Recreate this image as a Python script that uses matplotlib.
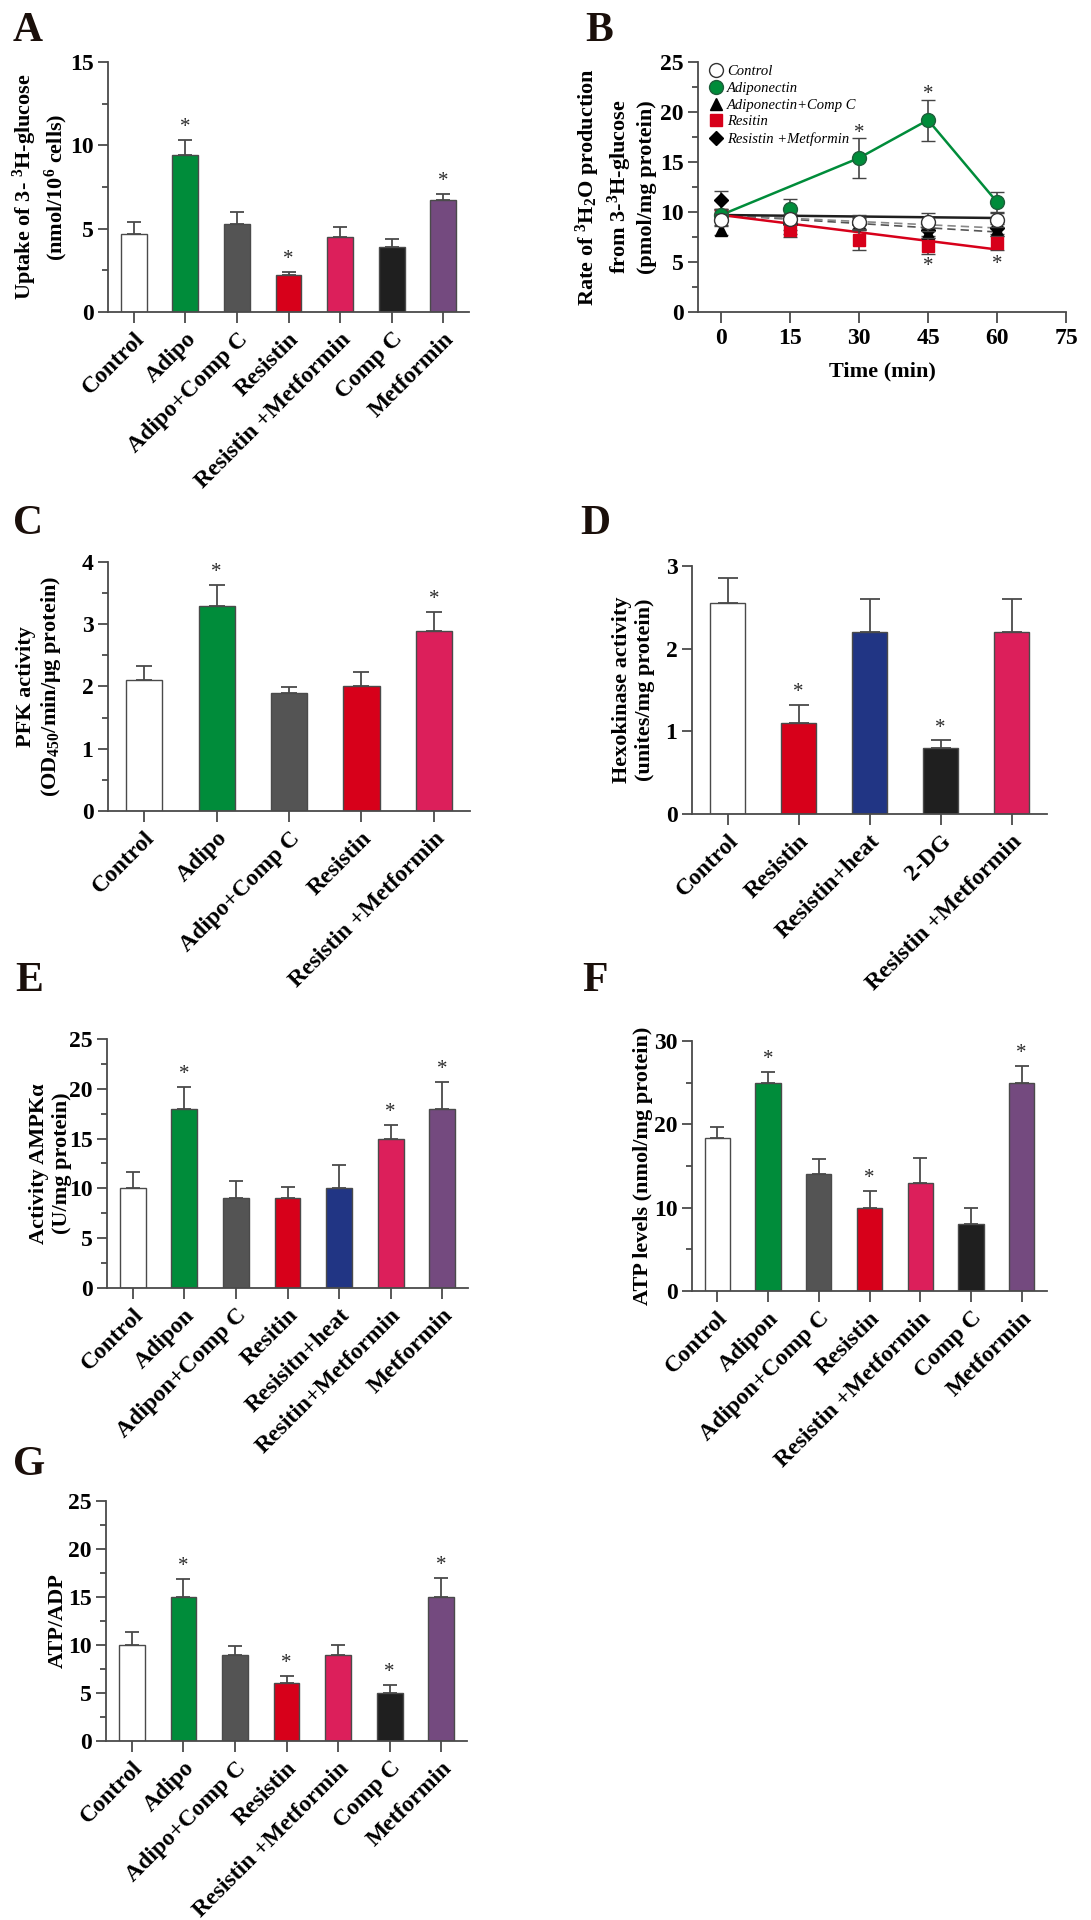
# Recreate the seven-panel adipokine / glucose-metabolism figure (A-G)

import matplotlib.pyplot as plt
import numpy as np

plt.rcParams['font.family'] = ['Liberation Serif', 'DejaVu Serif']
plt.rcParams['font.weight'] = 'bold'
plt.rcParams['axes.labelweight'] = 'bold'
plt.rcParams['mathtext.default'] = 'regular'

# Colours
WHITE = '#FFFFFF'
GREEN = '#008C3A'
GREY = '#545454'
RED = '#D7001A'
PINK = '#DC1F5B'
BLACK = '#1F1F1F'
PURPLE = '#744A7F'
BLUE = '#213584'
AXIS = '#4A4A4A'

# Panel A - glucose uptake
a_labels = ['Control', 'Adipo', 'Adipo+Comp C', 'Resistin', 'Resistin +Metformin', 'Comp C', 'Metformin']
a_values = [4.7, 9.4, 5.3, 2.2, 4.5, 3.9, 6.75]
a_errors = [0.7, 0.9, 0.7, 0.22, 0.6, 0.5, 0.32]
a_stars = [False, True, False, True, False, False, True]
a_colors = [WHITE, GREEN, GREY, RED, PINK, BLACK, PURPLE]

# Panel B - rate of 3H2O production
b_time = [0, 15, 30, 45, 60]
b_control = [9.2, 9.35, 9.0, 9.0, 9.25]
b_control_err = [0.6, 0.5, 0.7, 0.9, 0.7]
b_adipo = [9.7, 10.35, 15.4, 19.2, 11.0]
b_adipo_err = [0.6, 1.0, 2.0, 2.05, 1.0]
b_adipo_compc = [8.2, 8.45, 8.9, 7.95, 8.2]
b_adipo_compc_err = [0.5, 0.6, 0.6, 0.5, 0.6]
b_resitin = [9.75, 8.2, 7.2, 6.6, 6.95]
b_resitin_err = [0.6, 0.7, 1.0, 0.8, 0.7]
b_res_met = [11.2, 8.8, 8.8, 8.2, 8.4]
b_res_met_err = [0.95, 0.6, 0.6, 0.6, 0.6]
# fitted lines
b_adipo_line_t = [0, 30, 45, 60]
b_adipo_line = [9.7, 15.4, 19.2, 11.0]
b_fit_t = [0, 60]
b_control_fit = [9.7, 9.4]
b_resitin_fit = [9.7, 6.25]
b_compc_fit = [9.7, 8.0]
b_met_fit = [9.7, 8.4]
b_star_up = [(30, 17.9), (45, 21.8)]
b_star_down = [(45, 4.6), (60, 4.8)]

# Panel C - PFK activity
c_labels = ['Control', 'Adipo', 'Adipo+Comp C', 'Resistin', 'Resistin +Metformin']
c_values = [2.11, 3.29, 1.89, 2.0, 2.89]
c_errors = [0.22, 0.34, 0.1, 0.23, 0.3]
c_stars = [False, True, False, False, True]
c_colors = [WHITE, GREEN, GREY, RED, PINK]

# Panel D - hexokinase activity
d_labels = ['Control', 'Resistin', 'Resistin+heat', '2-DG', 'Resistin +Metformin']
d_values = [2.55, 1.1, 2.2, 0.8, 2.2]
d_errors = [0.3, 0.22, 0.4, 0.09, 0.4]
d_stars = [False, True, False, True, False]
d_colors = [WHITE, RED, BLUE, BLACK, PINK]

# Panel E - AMPK activity
e_labels = ['Control', 'Adipon', 'Adipon+Comp C', 'Resitin', 'Resisitn+heat', 'Resitin+Metformin', 'Metformin']
e_values = [10, 18, 9, 9, 10, 15, 18]
e_errors = [1.67, 2.17, 1.7, 1.1, 2.3, 1.4, 2.65]
e_stars = [False, True, False, False, False, True, True]
e_colors = [WHITE, GREEN, GREY, RED, BLUE, PINK, PURPLE]

# Panel F - ATP levels
f_labels = ['Control', 'Adipon', 'Adipon+Comp C', 'Resistin', 'Resistin +Metformin', 'Comp C', 'Metformin']
f_values = [18.4, 25, 14, 10, 13, 8, 25]
f_errors = [1.25, 1.3, 1.9, 2.0, 3.0, 2.0, 1.95]
f_stars = [False, True, False, True, False, False, True]
f_colors = [WHITE, GREEN, GREY, RED, PINK, BLACK, PURPLE]

# Panel G - ATP/ADP
g_labels = ['Control', 'Adipo', 'Adipo+Comp C', 'Resistin', 'Resistin +Metformin', 'Comp C', 'Metformin']
g_values = [10, 15, 9, 6, 9, 5, 15]
g_errors = [1.4, 1.9, 0.9, 0.8, 1.0, 0.8, 2.0]
g_stars = [False, True, False, True, False, True, True]
g_colors = [WHITE, GREEN, GREY, RED, PINK, BLACK, PURPLE]

TICK_FS = 17
LABEL_FS = 16


def style_axes(ax):
    for side in ['top', 'right']:
        ax.spines[side].set_visible(False)
    for side in ['left', 'bottom']:
        ax.spines[side].set_color(AXIS)
        ax.spines[side].set_linewidth(1.3)
    ax.tick_params(which='both', direction='out', color=AXIS, width=1.3)
    ax.tick_params(which='major', length=7, labelsize=TICK_FS)
    ax.tick_params(which='minor', length=4)


def bar_panel(ax, labels, values, errors, colors, stars, ymax, major, minor, ylabel, cap, label_x):
    x = np.arange(len(labels))
    ax.bar(x, values, width=0.5, color=colors, edgecolor=AXIS, linewidth=1.0, zorder=2)
    ax.errorbar(x, values, yerr=[np.zeros(len(values)), errors], fmt='none',
                ecolor=AXIS, elinewidth=1.3, capsize=cap, capthick=1.3, zorder=1)
    for xi, v, e, s in zip(x, values, errors, stars):
        if s:
            ax.text(xi, v + e + ymax * 0.012, '*', ha='center', va='bottom',
                    fontsize=15, fontweight='normal', color='#2A2A2A')
    ax.set_xlim(-0.5, len(labels) - 0.5)
    ax.set_ylim(0, ymax)
    ax.set_yticks(np.arange(0, ymax + 0.001, major))
    if minor:
        ax.set_yticks(np.arange(0, ymax + 0.001, minor), minor=True)
    ax.set_xticks(x)
    ax.set_xticklabels(labels, rotation=45, ha='right', va='top', rotation_mode='anchor')
    ax.set_ylabel(ylabel, fontsize=LABEL_FS)
    ax.yaxis.set_label_coords(label_x, 0.5)
    style_axes(ax)
    ax.tick_params(axis='x', length=8, pad=4)


fig = plt.figure(figsize=(10.91, 19.2), dpi=100)

axA = fig.add_axes([0.0990, 0.8375, 0.3309, 0.1302])
axB = fig.add_axes([0.6398, 0.8375, 0.3373, 0.1302])
axC = fig.add_axes([0.0990, 0.5776, 0.3318, 0.1297])
axD = fig.add_axes([0.6343, 0.5760, 0.3254, 0.1292])
axE = fig.add_axes([0.0981, 0.3292, 0.3309, 0.1297])
axF = fig.add_axes([0.6343, 0.3276, 0.3254, 0.1302])
axG = fig.add_axes([0.0972, 0.0932, 0.3309, 0.1250])

bar_panel(axA, a_labels, a_values, a_errors, a_colors, a_stars, 15, 5, 2.5,
          'Uptake of 3- $^{3}$H-glucose\n(nmol/10$^{6}$ cells)', 4.7, -0.106)
bar_panel(axC, c_labels, c_values, c_errors, c_colors, c_stars, 4, 1, 0.5,
          'PFK activity\n(OD$_{450}$/min/μg protein)', 6.1, -0.124)
bar_panel(axD, d_labels, d_values, d_errors, d_colors, d_stars, 3, 1, None,
          'Hexokinase activity\n(unites/mg protein)', 7.0, -0.104)
bar_panel(axE, e_labels, e_values, e_errors, e_colors, e_stars, 25, 5, 2.5,
          'Activity AMPKα\n(U/mg protein)', 4.7, -0.097)
bar_panel(axF, f_labels, f_values, f_errors, f_colors, f_stars, 30, 10, 5,
          'ATP levels (nmol/mg protein)', 4.7, -0.11)
bar_panel(axG, g_labels, g_values, g_errors, g_colors, g_stars, 25, 5, 2.5,
          'ATP/ADP', 4.7, -0.105)

# Panel B - time course
ax = axB
ax.plot(b_fit_t, b_compc_fit, color='#555555', lw=1.2, ls=(0, (5, 3)), zorder=1)
ax.plot(b_fit_t, b_met_fit, color='#888888', lw=1.2, ls=(0, (5, 3)), zorder=1)
ax.plot(b_fit_t, b_control_fit, color=BLACK, lw=1.8, zorder=1)
ax.plot(b_fit_t, b_resitin_fit, color=RED, lw=1.8, zorder=1)
ax.plot(b_adipo_line_t, b_adipo_line, color=GREEN, lw=1.8, zorder=1)

series = [
    (b_res_met, b_res_met_err, 'D', 'black', 'black', 7, 'Resistin +Metformin'),
    (b_adipo_compc, b_adipo_compc_err, '^', 'black', 'black', 8, 'Adiponectin+Comp C'),
    (b_resitin, b_resitin_err, 's', RED, RED, 9, 'Resitin'),
    (b_adipo, b_adipo_err, 'o', GREEN, '#1E5E3A', 10, 'Adiponectin'),
    (b_control, b_control_err, 'o', WHITE, '#333333', 10, 'Control'),
]
handles = {}
for i, (vals, errs, mk, fc, ec, ms, name) in enumerate(series):
    h = ax.errorbar(b_time, vals, yerr=errs, fmt=mk, ms=ms, mfc=fc, mec=ec, mew=1.0,
                    ecolor='#444444', elinewidth=1.2, capsize=5, capthick=1.2,
                    zorder=3 + i, label=name)
    handles[name] = h

for tx, ty in b_star_up + b_star_down:
    ax.text(tx, ty, '*', ha='center', va='center', fontsize=15, fontweight='normal', color='#2A2A2A')

order = ['Control', 'Adiponectin', 'Adiponectin+Comp C', 'Resitin', 'Resistin +Metformin']
leg = ax.legend([handles[n][0] for n in order], order, loc='upper left', bbox_to_anchor=(0.005, 1.03),
                frameon=False, handlelength=0.8, handletextpad=0.35, labelspacing=0.25,
                borderpad=0.2, prop={'family': 'Liberation Serif', 'style': 'italic',
                                     'weight': 'normal', 'size': 10.5})
ax.set_xlim(-5, 75)
ax.set_ylim(0, 25)
ax.set_xticks(b_time + [75])
ax.set_yticks(np.arange(0, 26, 5))
ax.set_yticks(np.arange(0, 26, 2.5), minor=True)
ax.set_xlabel('Time (min)', fontsize=LABEL_FS, labelpad=9)
ax.set_ylabel('Rate of $^{3}$H$_{2}$O production\nfrom 3-$^{3}$H-glucose\n(pmol/mg protein)',
              fontsize=LABEL_FS)
ax.yaxis.set_label_coords(-0.111, 0.5)
style_axes(ax)
ax.tick_params(axis='x', length=8)

# Panel letters
for letter, x, y in [('A', 0.012, 0.994), ('B', 0.536, 0.994), ('C', 0.012, 0.737),
                     ('D', 0.532, 0.737), ('E', 0.014, 0.499), ('F', 0.534, 0.499),
                     ('G', 0.012, 0.247)]:
    fig.text(x, y, letter, fontsize=30, fontweight='bold', va='top', ha='left', color='#1A0F0A')

plt.savefig('out.png', dpi=100)
